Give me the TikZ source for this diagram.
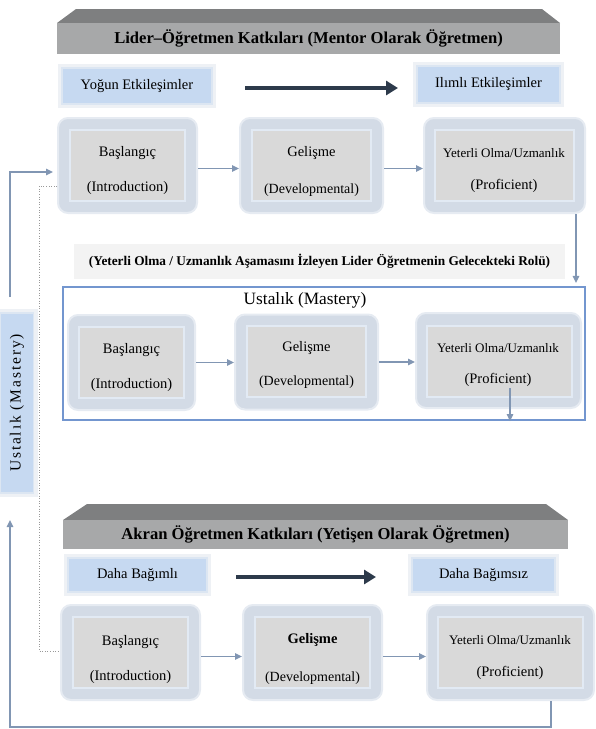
\documentclass[tikz,border=0pt]{standalone}
\usepackage{fontspec}
\setmainfont{Liberation Serif}
\usetikzlibrary{arrows.meta}
\definecolor{btop}{HTML}{7E7F80}
\definecolor{bface}{HTML}{A7A8A9}
\definecolor{lbfill}{HTML}{C6D9F1}
\definecolor{lbborder}{HTML}{DCE6F2}
\definecolor{lbglow}{HTML}{EEF1F5}
\definecolor{souter}{HTML}{D3DBE6}
\definecolor{sglow}{HTML}{E6EBF2}
\definecolor{sinner}{HTML}{D9D9D9}
\definecolor{sframe}{HTML}{E2EAF4}
\definecolor{conncol}{HTML}{8196B3}
\definecolor{thickcol}{HTML}{2D3A4B}
\definecolor{frameblue}{HTML}{7396CF}
\definecolor{notefill}{HTML}{F3F3F3}
\begin{document}
\begin{tikzpicture}[x=1pt,y=-1pt,
  bannerface/.style={fill=bface, inner sep=0, font=\fontsize{16.6}{19}\selectfont\bfseries},
  lbox/.style={fill=lbfill, draw=lbborder, line width=1.5pt, preaction={draw=lbglow, line width=8pt}, inner sep=0, font=\fontsize{14.5}{17}\selectfont},
  stageouter/.style={rounded corners=10pt, fill=souter, draw=sglow, line width=2pt, inner sep=0, minimum height=95},
  stageinner/.style={fill=sinner, draw=sframe, line width=2pt, inner sep=0},
  stagetext/.style={inner sep=0, font=\fontsize{14.5}{17}\selectfont},
  smalltext/.style={inner sep=0, font=\fontsize{13}{15}\selectfont},
  devtext/.style={inner sep=0, font=\fontsize{14}{16}\selectfont},
  conn/.style={draw=conncol, line width=1.3pt, -{Triangle[length=7pt,width=6.5pt]}},
  thickarrow/.style={draw=thickcol, line width=4.5pt, -{Triangle[length=12pt,width=14pt]}},
  dotline/.style={draw=gray!80, line width=0.6pt, dotted}
]
\useasboundingbox (0,0) rectangle (596,729);

% ---------- top banner ----------
\fill[btop] (76,9) -- (542,9) -- (560,23) -- (57,23) -- cycle;
\node[bannerface, minimum width=503, minimum height=31] (ban1) at (308.5,38.5) {Lider–Öğretmen Katkıları (Mentor Olarak Öğretmen)};

\node[lbox, minimum width=150, minimum height=36] (yog) at (137,86) {Yoğun Etkileşimler};
\node[lbox, minimum width=143, minimum height=37] (ilm) at (488.5,84.5) {Ilımlı Etkileşimler};
\coordinate (ta1) at (245,88);
\coordinate (ta2) at (398,88);
\draw[thickarrow] (ta1) -- (ta2);

% ---------- row 1 ----------
\node[stageouter, minimum width=139] (r1a) at (127.5,165.5) {};
\node[stageinner, minimum width=115, minimum height=71] (r1ai) at (127.5,165) {};
\node[stagetext] (r1at) at (127.5,153) {Başlangıç};
\node[stagetext] (r1as) at (127.5,188) {(Introduction)};

\node[stageouter, minimum width=143] (r1b) at (311.5,165.5) {};
\node[stageinner, minimum width=119, minimum height=71] (r1bi) at (311.5,165) {};
\node[stagetext] (r1bt) at (311.5,153) {Gelişme};
\node[devtext] (r1bs) at (311.5,190) {(Developmental)};

\node[stageouter, minimum width=161] (r1c) at (504.5,165.5) {};
\node[stageinner, minimum width=139, minimum height=71] (r1ci) at (504.5,165) {};
\node[smalltext] (r1ct) at (504,153) {Yeterli Olma/Uzmanlık};
\node[stagetext] (r1cs) at (504,186) {(Proficient)};

\draw[conn] ([yshift=-3pt]r1a.east) -- ([yshift=-3pt]r1a.east -| r1b.west);
\draw[conn] ([yshift=-3pt]r1b.east) -- ([yshift=-3pt]r1b.east -| r1c.west);

% ---------- note ----------
\node[fill=notefill, inner sep=0, minimum width=491, minimum height=35, font=\fontsize{13.3}{15}\selectfont\bfseries] (note) at (319.5,261) {(Yeterli Olma / Uzmanlık Aşamasını İzleyen Lider Öğretmenin Gelecekteki Rolü)};

% ---------- mastery frame ----------
\node[draw=frameblue, line width=2.2pt, inner sep=0, minimum width=522, minimum height=133] (mast) at (324,353.5) {};
\node[inner sep=0, font=\fontsize{17.3}{20}\selectfont] (mastt) at (305,300) {Ustalık (Mastery)};

\node[stageouter, minimum width=127] (r2a) at (131.5,362.5) {};
\node[stageinner, minimum width=105, minimum height=71] (r2ai) at (131.5,362) {};
\node[stagetext] (r2at) at (131.5,350) {Başlangıç};
\node[stagetext] (r2as) at (131.5,385) {(Introduction)};

\node[stageouter, minimum width=143] (r2b) at (306.5,362) {};
\node[stageinner, minimum width=119, minimum height=71] (r2bi) at (306.5,361.5) {};
\node[stagetext] (r2bt) at (306.5,348) {Gelişme};
\node[devtext] (r2bs) at (306.5,382) {(Developmental)};

\node[stageouter, minimum width=165] (r2c) at (498.5,360.5) {};
\node[stageinner, minimum width=145, minimum height=71] (r2ci) at (499.5,361) {};
\node[smalltext] (r2ct) at (498,348) {Yeterli Olma/Uzmanlık};
\node[stagetext] (r2cs) at (498,380) {(Proficient)};

\draw[conn] (r2a.east) -- (r2a.east -| r2b.west);
\draw[conn] (r2b.east) -- (r2b.east -| r2c.west);
\coordinate (m2s) at (510,388);
\draw[conn] (m2s) -- (m2s |- mast.south);

\draw[conn, shorten >=3pt] ([xshift=-10pt]r1c.south east) -- ([xshift=-10pt]r1c.south east |- mast.north);

% ---------- vertical label ----------
\node[lbox, rotate=90, minimum width=180, minimum height=33, font=\fontsize{15.5}{18}\selectfont\addfontfeature{LetterSpace=12}] (ustv) at (17,403) {Ustalık (Mastery)};
\coordinate (lu) at (10,297);
\draw[conn, shorten >=4pt] (lu) |- ([yshift=-6.5pt]r1a.west);

% ---------- bottom banner ----------
\fill[btop] (87,504) -- (546,504) -- (568,520) -- (63,520) -- cycle;
\node[bannerface, minimum width=505, minimum height=29] (ban2) at (315.5,534.5) {Akran Öğretmen Katkıları (Yetişen Olarak Öğretmen)};

\node[lbox, minimum width=139, minimum height=34] (dbl) at (137.5,575) {Daha Bağımlı};
\node[lbox, minimum width=143, minimum height=34] (dbs) at (483.5,575) {Daha Bağımsız};
\coordinate (tb1) at (236,577);
\coordinate (tb2) at (376,577);
\draw[thickarrow] (tb1) -- (tb2);

% ---------- row 3 ----------
\node[stageouter, minimum width=139] (r3a) at (130.5,652.5) {};
\node[stageinner, minimum width=115, minimum height=71] (r3ai) at (130.5,652) {};
\node[stagetext] (r3at) at (130.5,642) {Başlangıç};
\node[stagetext] (r3as) at (130.5,677) {(Introduction)};

\node[stageouter, minimum width=139] (r3b) at (312.5,652.5) {};
\node[stageinner, minimum width=115, minimum height=71] (r3bi) at (312.5,652) {};
\node[stagetext, font=\fontsize{14.5}{17}\selectfont\bfseries] (r3bt) at (312.5,640) {Gelişme};
\node[devtext] (r3bs) at (312.5,678) {(Developmental)};

\node[stageouter, minimum width=167] (r3c) at (510.5,652.5) {};
\node[stageinner, minimum width=145, minimum height=71] (r3ci) at (510.5,652) {};
\node[smalltext] (r3ct) at (510,640) {Yeterli Olma/Uzmanlık};
\node[stagetext] (r3cs) at (510,673) {(Proficient)};

\draw[conn] ([yshift=-4pt]r3a.east) -- ([yshift=-4pt]r3a.east -| r3b.west);
\draw[conn] ([yshift=-4pt]r3b.east) -- ([yshift=-4pt]r3b.east -| r3c.west);

% ---------- loops ----------
\coordinate (bl) at (10,727);
\coordinate (bu) at (10,520);
\draw[conn] ([xshift=40.5pt]r3c.south) |- (bl) -- (bu);
\draw[dotline] ([yshift=-20.5pt]r1a.west) -| (39,651) -- ([yshift=1.5pt]r3a.west);
\end{tikzpicture}
\end{document}
